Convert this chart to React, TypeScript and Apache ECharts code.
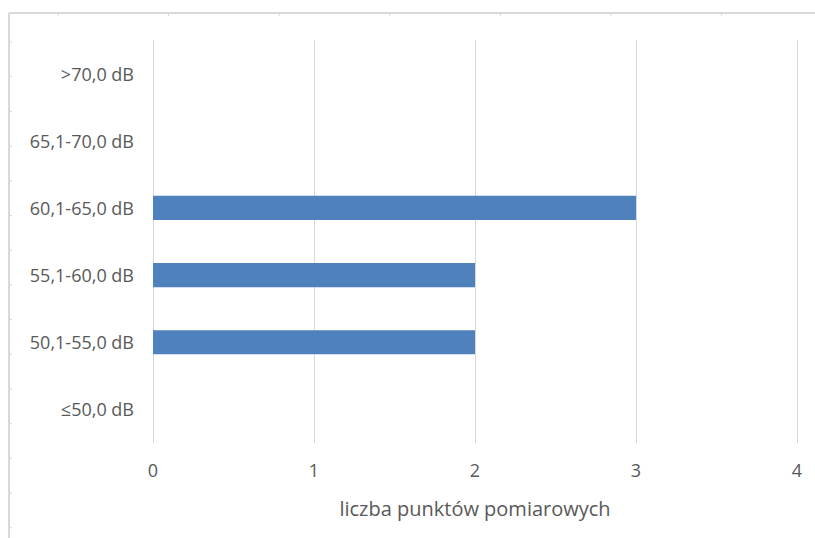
import React, { useEffect, useRef } from "react";
import * as echarts from "echarts";

const categories = ["≤50,0 dB", "50,1-55,0 dB", "55,1-60,0 dB", "60,1-65,0 dB", "65,1-70,0 dB", ">70,0 dB"];
const values = [0, 2, 2, 3, 0, 0];
const xTicks = [0, 1, 2, 3, 4];
const axisTitle = "liczba punktów pomiarowych";

export default function App() {
  const ref = useRef<HTMLDivElement>(null);
  useEffect(() => {
    if (!ref.current) return;
    const chart = echarts.init(ref.current, null, { renderer: "svg" });
    const border = "#D9D9D9";
    const decor: any[] = [
      { type: "line", shape: { x1: 9, y1: 13, x2: 9, y2: 538 }, style: { stroke: border, lineWidth: 2 } },
      { type: "line", shape: { x1: 9, y1: 13, x2: 815, y2: 13 }, style: { stroke: border, lineWidth: 2 } },
    ];
    for (let i = 0; i < 15; i++) {
      const y = 42 + i * 34.7;
      decor.push({ type: "line", shape: { x1: 9, y1: y, x2: 12, y2: y }, style: { stroke: border, lineWidth: 1 } });
    }
    for (let i = 0; i < 7; i++) {
      const x = 58 + i * 110.6;
      decor.push({ type: "line", shape: { x1: x, y1: 13, x2: x, y2: 16 }, style: { stroke: border, lineWidth: 1 } });
    }
    chart.setOption({
      animation: false,
      backgroundColor: "#fff",
      textStyle: { fontFamily: "Open Sans" },
      grid: { left: 153, right: 18, top: 40, bottom: 95, containLabel: false },
      xAxis: {
        type: "value",
        min: xTicks[0],
        max: xTicks[xTicks.length - 1],
        interval: 1,
        axisLine: { show: false },
        axisTick: { show: false },
        axisLabel: { color: "#595959", fontSize: 18, margin: 18, fontFamily: "Open Sans" },
        splitLine: { show: true, lineStyle: { color: "#D9D9D9", width: 1 } },
        name: axisTitle,
        nameLocation: "middle",
        nameGap: 55,
        nameTextStyle: { color: "#595959", fontSize: 20, fontFamily: "Open Sans" },
      },
      yAxis: {
        type: "category",
        data: categories,
        axisLine: { show: false },
        axisTick: { show: false },
        axisLabel: { color: "#595959", fontSize: 18, margin: 19, fontFamily: "Open Sans" },
        splitLine: { show: false },
      },
      series: [
        {
          type: "bar",
          data: values,
          barWidth: "36%",
          itemStyle: { color: "#4F81BD" },
        },
      ],
      graphic: decor,
    });
    return () => chart.dispose();
  }, []);
  return <div ref={ref} style={{ position: "fixed", left: 0, top: 0, width: 815, height: 538 }} />;
}
